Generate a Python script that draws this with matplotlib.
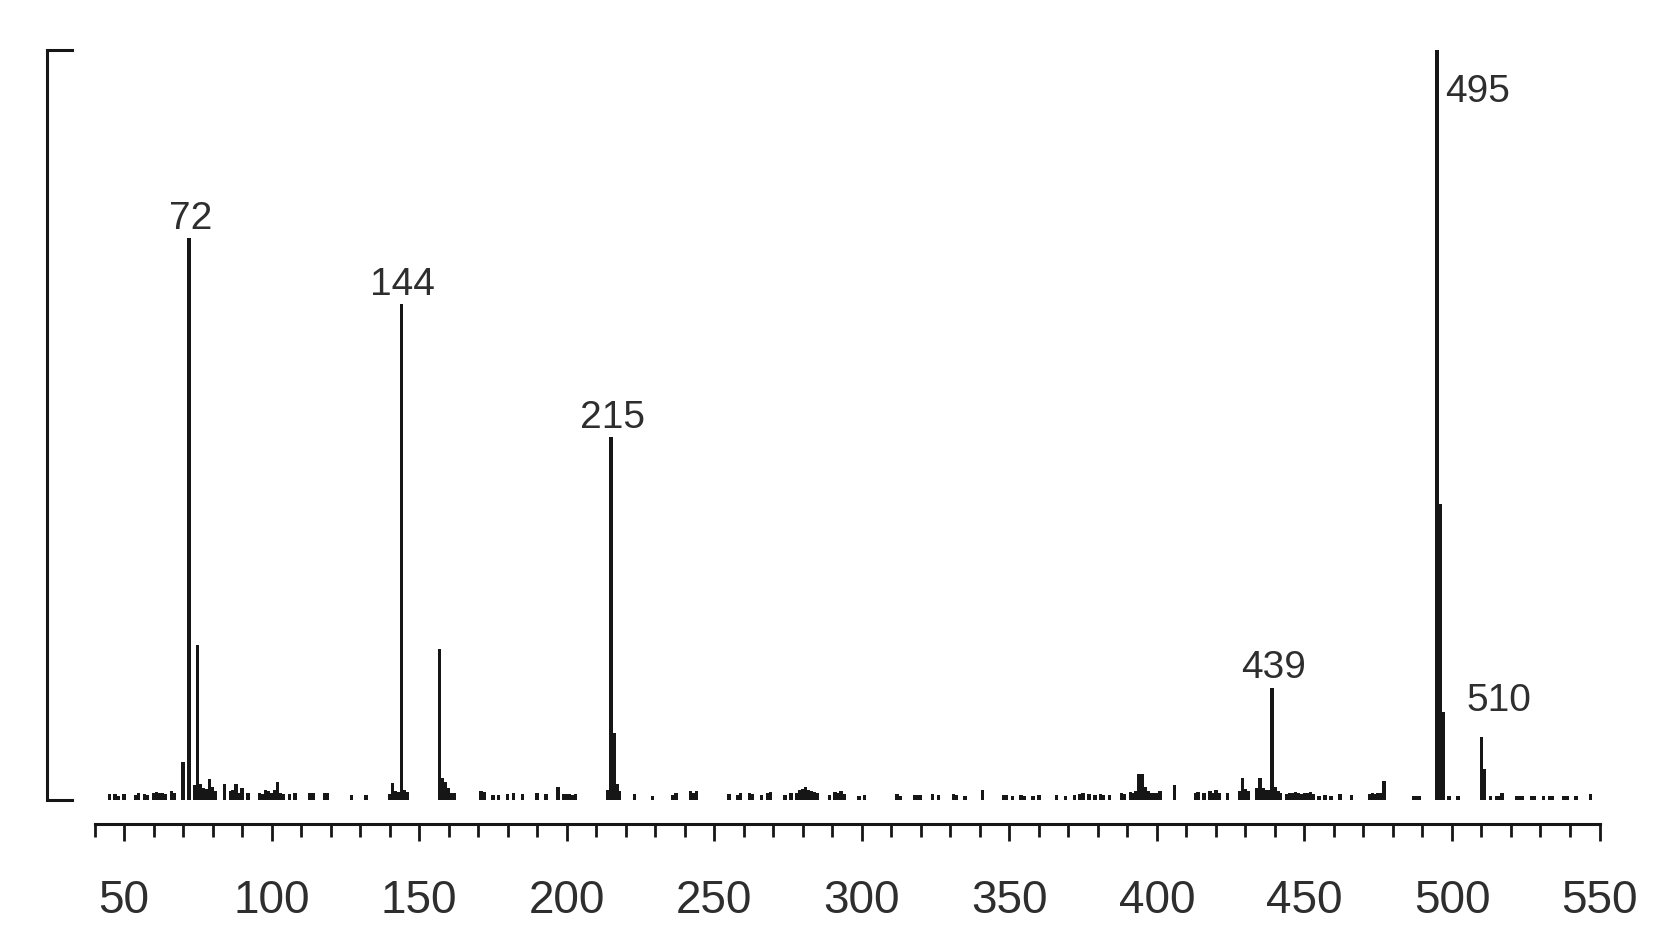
import matplotlib
matplotlib.use("Agg")
import matplotlib.pyplot as plt

plt.rcParams['font.family'] = ['Liberation Sans', 'DejaVu Sans']

# ---- data: m/z values and relative intensities (%) ----
mz = [45, 47, 48, 50,
      54, 55, 57, 58,
      60, 61, 62, 63, 64, 66, 67,
      70, 72, 74, 75, 76, 77, 78, 79, 80, 81,
      84, 86, 87, 88, 89, 90, 92,
      96, 97, 98, 99, 100, 101, 102, 103, 104,
      106, 108, 113, 114, 118, 119,
      127, 132,
      140, 141, 142, 143, 144, 145, 146,
      157, 158, 159, 160, 161, 162,
      171, 172, 175, 177, 180, 182, 185,
      190, 193, 197, 199, 200, 201, 202, 203,
      214, 215, 216, 217, 218,
      223, 229, 236, 237, 242, 243, 244,
      255, 258, 259, 262, 263, 266, 268, 269,
      274, 276, 278, 279, 280, 281, 282, 283, 284, 285,
      289, 291, 292, 293, 294, 299, 301,
      312, 313, 318, 319, 320, 324, 326, 331, 332, 335,
      341,
      348, 349, 351, 354, 355, 358, 360,
      366, 369, 372, 374, 375, 377, 379, 381, 382, 384,
      388, 389, 391, 392, 393, 394, 395, 396, 397, 398, 399, 400, 401,
      406,
      413, 414, 416, 418, 419, 420, 421, 424,
      428, 429, 430, 431,
      434, 435, 436, 437, 438, 439, 440, 441, 442,
      444, 445, 446, 447, 448, 449, 450, 451, 452, 453,
      455, 457, 459, 462, 466,
      472, 473, 474, 475, 476, 477,
      487, 488, 489,
      495, 496, 497, 499, 502,
      510, 511, 513, 515, 516, 517,
      522, 523, 524, 527, 528, 531, 533, 534, 538, 539, 542, 547]
intensity = [0.8, 0.8, 0.6, 0.8,
             0.7, 0.9, 0.8, 0.7,
             1.0, 1.1, 0.9, 1.0, 0.8, 1.2, 0.9,
             5.1, 74.9, 2.0, 20.7, 2.2, 1.6, 1.5, 2.8, 1.7, 1.2,
             2.2, 1.2, 1.3, 2.1, 1.0, 1.6, 1.0,
             1.0, 0.8, 1.3, 1.2, 1.0, 1.4, 2.4, 1.0, 0.8,
             0.8, 0.9, 1.0, 0.9, 1.0, 0.9,
             0.7, 0.7,
             0.8, 2.3, 1.2, 1.1, 66.1, 1.4, 1.1,
             20.1, 2.9, 2.4, 1.6, 1.0, 0.9,
             1.2, 1.1, 0.7, 0.7, 0.8, 0.9, 0.8,
             1.0, 0.8, 1.8, 0.8, 0.8, 0.8, 0.7, 0.8,
             1.4, 48.4, 9.0, 2.2, 1.2,
             0.8, 0.6, 0.7, 0.9, 1.2, 0.9, 1.2,
             0.8, 0.7, 1.0, 0.9, 0.8, 0.7, 1.0, 1.1,
             0.7, 0.9, 1.0, 1.3, 1.5, 1.8, 1.4, 1.2, 1.1, 1.0,
             0.7, 1.1, 1.0, 1.2, 0.8, 0.6, 0.7,
             0.8, 0.6, 0.7, 0.7, 0.7, 0.8, 0.7, 0.8, 0.7, 0.6,
             1.4,
             0.7, 0.7, 0.6, 0.7, 0.6, 0.6, 0.7,
             0.7, 0.6, 0.7, 0.8, 0.9, 0.8, 0.7, 0.8, 0.7, 0.7,
             1.0, 0.8, 1.1, 1.0, 1.2, 3.5, 3.5, 1.8, 1.2, 1.0, 0.9, 1.0, 1.2,
             2.0,
             1.0, 1.1, 0.9, 1.2, 1.0, 1.4, 0.9, 1.0,
             1.2, 3.0, 1.5, 1.2,
             1.6, 3.0, 1.6, 1.4, 1.3, 15.0, 1.8, 1.2, 1.0,
             0.8, 0.9, 1.0, 1.1, 0.9, 0.8, 1.0, 0.9, 1.1, 0.8,
             0.6, 0.7, 0.6, 0.8, 0.7,
             0.8, 1.0, 0.8, 0.9, 1.0, 2.6,
             0.6, 0.6, 0.6,
             100.0, 39.5, 11.7, 0.6, 0.6,
             8.4, 4.1, 0.6, 0.5, 0.6, 1.0,
             0.6, 0.6, 0.6, 0.6, 0.6, 0.6, 0.6, 0.6, 0.6, 0.6, 0.6, 0.8]

label_mz = [72, 144, 215, 439]
label_text = ["72", "144", "215", "439"]
major_ticks = list(range(50, 551, 50))
minor_ticks = [t for t in range(40, 550, 10) if t % 50 != 0]

INK = '#161616'
TXT = '#2e2e2e'

fig = plt.figure(figsize=(16.76, 9.5), dpi=100)
ax = fig.add_axes([94.5 / 1676, 150 / 950, 1505 / 1676, 750 / 950])

ax.bar(mz, intensity, width=1.15, color=INK, linewidth=0, align='center')

ax.set_xlim(40, 550)
ax.set_ylim(0, 100)

for s in ('top', 'right', 'left'):
    ax.spines[s].set_visible(False)
ax.spines['bottom'].set_position(('outward', 17.3))
ax.spines['bottom'].set_bounds(40, 550)
ax.spines['bottom'].set_linewidth(2.2)
ax.spines['bottom'].set_color(INK)

ax.set_yticks([])
ax.set_xticks(major_ticks)
ax.set_xticklabels([str(t) for t in major_ticks])
ax.set_xticks(minor_ticks, minor=True)
ax.tick_params(axis='x', which='major', direction='out', length=12.5, width=2.0,
               color=INK, labelsize=33, labelcolor=TXT, pad=27)
ax.tick_params(axis='x', which='minor', direction='out', length=9, width=2.0, color=INK)

# left intensity bracket
ax.plot([32.4, 23.9, 23.9, 32.4], [100, 100, 0, 0], color=INK, lw=2.2,
        clip_on=False, solid_joinstyle='miter')

lookup = dict(zip(mz, intensity))
for m, t in zip(label_mz, label_text):
    ax.annotate(t, (m, lookup[m]), xytext=(1, 6.5), textcoords='offset points',
                ha='center', va='baseline', fontsize=28, color=TXT)
ax.annotate("510", (510, lookup[510]), xytext=(12.6, 18.7), textcoords='offset points',
            ha='center', va='baseline', fontsize=28, color=TXT)
ax.annotate("495", (495, lookup[495]), xytext=(5.8, -37.4), textcoords='offset points',
            ha='left', va='baseline', fontsize=28, color=TXT)

fig.savefig("out.png", dpi=100)
